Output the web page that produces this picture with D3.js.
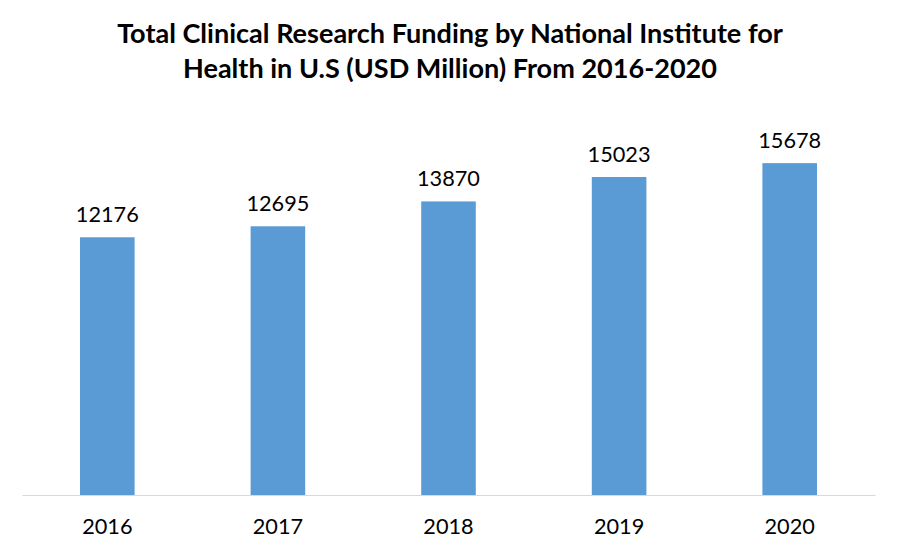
<!DOCTYPE html>
<html><head><meta charset="utf-8">
<script src="https://cdn.jsdelivr.net/npm/d3@7"></script>
<style>body{margin:0;background:#fff}svg{display:block}</style>
</head><body>
<svg id="c" width="899" height="557"></svg>
<script>
const years = ["2016","2017","2018","2019","2020"];
const funding = [12176, 12695, 13870, 15023, 15678];
const titleLines = ["Total Clinical Research Funding by National Institute for",
                    "Health in U.S (USD Million) From 2016-2020"];

const svg = d3.select("#c");
const W = 899, H = 557;
const m = {left: 22, right: 24, top: 114, bottom: 62};
const x = d3.scaleBand().domain(years).range([m.left, W - m.right]).paddingInner(0.68).paddingOuter(0.34);
const y = d3.scaleLinear().domain([0, 18000]).range([H - m.bottom, m.top]);

const font = "Lato, 'Open Sans', sans-serif";

// title
const t = svg.append("g");
titleLines.forEach((s, i) => {
  t.append("text").attr("x", 450).attr("y", 43 + i * 35)
    .attr("text-anchor", "middle").attr("font-family", font)
    .attr("font-weight", "bold").attr("font-size", 24).attr("fill", "#000").text(s);
});
const t0 = t.select("text").node();
const fs = 24 * 666 / t0.getComputedTextLength();
t.selectAll("text").attr("font-size", fs);

// bars
svg.append("g").selectAll("rect").data(funding).join("rect")
  .attr("x", (d, i) => x(years[i]))
  .attr("width", x.bandwidth())
  .attr("y", d => y(d))
  .attr("height", d => y(0) - y(d))
  .attr("fill", "#5B9BD5");

// axis
const ax = svg.append("g").attr("transform", `translate(0,${y(0)})`)
  .call(d3.axisBottom(x).tickSize(0).tickPadding(24).tickSizeOuter(0));
ax.select(".domain").attr("stroke", "#D9D9D9").attr("stroke-width", 1);
ax.selectAll("text").attr("font-family", font).attr("font-size", 22).attr("fill", "#000");

// value labels
const vl = svg.append("g").selectAll("text").data(funding).join("text")
  .attr("x", (d, i) => x(years[i]) + x.bandwidth() / 2)
  .attr("y", d => y(d) - 15)
  .attr("text-anchor", "middle").attr("font-family", font)
  .attr("font-size", 22).attr("fill", "#000").text(d => d);

const w5 = vl.node().getComputedTextLength();
const lfs = 22 * 63 / w5;
vl.attr("font-size", lfs);
ax.selectAll("text").attr("font-size", lfs);
</script>
</body></html>
